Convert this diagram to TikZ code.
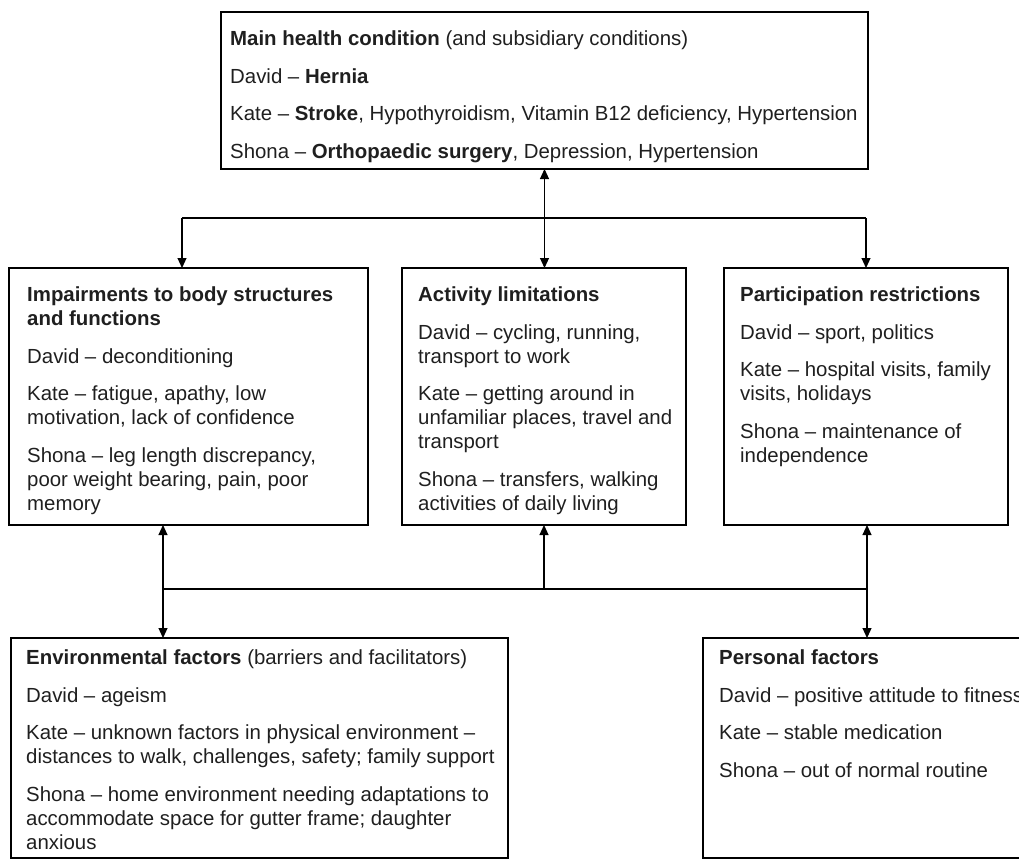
\documentclass[tikz,border=0pt]{standalone}
\usepackage{fontspec}
\setmainfont{Liberation Sans}
\usetikzlibrary{arrows.meta}
\begin{document}
\begin{tikzpicture}[x=1pt,y=-1pt,
  box/.style={draw=black, line width=2.4pt, inner sep=0pt, outer sep=0pt, anchor=north west},
  txt/.style={anchor=north west, inner sep=0pt, align=left, text=black!88,
              font=\fontsize{20.4}{24}\selectfont},
  link/.style={draw=black, line width=1.1pt},
  tip/.style={-{Triangle[length=10pt,width=9pt]}},
  tips/.style={{Triangle[length=10pt,width=9pt]}-{Triangle[length=10pt,width=9pt]}}]
\useasboundingbox (0,0) rectangle (1019,860);
\clip (0,0) rectangle (1019,860);

% frames
\node[box, minimum width=647pt, minimum height=157pt] (health)   at (221,12)  {};
\node[box, minimum width=359pt, minimum height=257pt] (body)     at (9,268)   {};
\node[box, minimum width=284pt, minimum height=257pt] (activity) at (402,268) {};
\node[box, minimum width=284pt, minimum height=257pt] (partic)   at (724,268) {};
\node[box, minimum width=497pt, minimum height=220pt] (env)      at (11,638)  {};
\node[box, minimum width=340pt, minimum height=220pt] (personal) at (703,638) {};

% contents
\node[txt] (healthtxt) at (230,30.6) {\textbf{Main health condition} (and subsidiary conditions)\\[13.5pt]
  David – \textbf{Hernia}\\[13.5pt]
  Kate – \textbf{Stroke}, Hypothyroidism, Vitamin B12 deficiency, Hypertension\\[13.5pt]
  Shona – \textbf{Orthopaedic surgery}, Depression, Hypertension};

\node[txt] (bodytxt) at (27,286.6) {\textbf{Impairments to body structures}\\
  \textbf{and functions}\\[13.5pt]
  David – deconditioning\\[13.5pt]
  Kate – fatigue, apathy, low\\
  motivation, lack of confidence\\[13.5pt]
  Shona – leg length discrepancy,\\
  poor weight bearing, pain, poor\\
  memory};

\node[txt] (activitytxt) at (418,286.6) {\textbf{Activity limitations}\\[13.5pt]
  David – cycling, running,\\
  transport to work\\[13.5pt]
  Kate – getting around in\\
  unfamiliar places, travel and\\
  transport\\[13.5pt]
  Shona – transfers, walking\\
  activities of daily living};

\node[txt] (partictxt) at (740,286.6) {\textbf{Participation restrictions}\\[13.5pt]
  David – sport, politics\\[13.5pt]
  Kate – hospital visits, family\\
  visits, holidays\\[13.5pt]
  Shona – maintenance of\\
  independence};

\node[txt] (envtxt) at (26,649.6) {\textbf{Environmental factors} (barriers and facilitators)\\[13.5pt]
  David – ageism\\[13.5pt]
  Kate – unknown factors in physical environment –\\
  distances to walk, challenges, safety; family support\\[13.5pt]
  Shona – home environment needing adaptations to\\
  accommodate space for gutter frame; daughter\\
  anxious};

\node[txt] (personaltxt) at (719,649.6) {\textbf{Personal factors}\\[13.5pt]
  David – positive attitude to fitness\\[13.5pt]
  Kate – stable medication\\[13.5pt]
  Shona – out of normal routine};

% junctions
\coordinate (jl) at (182,218);
\coordinate (jr) at (866,218);
\coordinate (bl) at (163,589);
\coordinate (br) at (867,589);

% upper connectors
\draw[link, tips] (health.south) -- (health.south |- activity.north);
\draw[link] (jl) -- (jr);
\draw[link, tip] (jl) -- (jl |- body.north);
\draw[link, tip] (jr) -- (jr |- partic.north);

% lower connectors
\draw[link] (bl) -- (br);
\draw[link, tips] (bl |- body.south) -- (bl |- env.north);
\draw[link, tips] (br |- partic.south) -- (br |- personal.north);
\draw[link, tip] (activity.south |- bl) -- (activity.south);
\end{tikzpicture}
\end{document}
